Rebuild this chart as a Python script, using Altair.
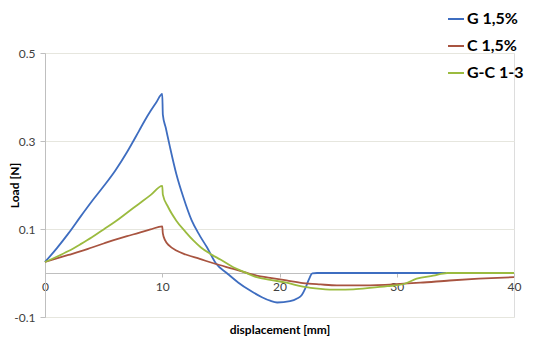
import altair as alt
import pandas as pd

series_names = ["G 1,5%", "C 1,5%", "G-C 1-3"]
series_colors = ["#3E6DC0", "#A85440", "#9BBB3F"]

g_x = [0, 1, 2, 3, 4, 5, 6, 7, 8, 8.5, 9, 9.5, 10, 10.05, 10.3, 10.66, 11.2, 11.8, 12.5,
       13.2, 13.8, 14.6, 15.5, 16.5, 17.5, 18.5, 19.2, 19.8, 20.9, 21.5, 21.9, 22.2,
       22.5, 22.8, 23.2, 34.2]
g_y = [0.025, 0.056, 0.09, 0.127, 0.163, 0.197, 0.233, 0.275, 0.322, 0.346, 0.368, 0.388,
       0.407, 0.36, 0.33, 0.286, 0.225, 0.172, 0.12, 0.085, 0.059, 0.021, 0.0, -0.022,
       -0.04, -0.055, -0.063, -0.067, -0.064, -0.058, -0.05, -0.035, -0.015, -0.001,
       0.0, 0.0]

c_x = [0, 1, 2, 3, 4, 5, 6, 7, 8, 9, 10, 10.05, 10.25, 10.6, 11.2, 12, 13.2, 14.5,
       16.06, 18.05, 19.2, 20.6, 22, 23.5, 24.9, 27.7, 29, 30.6, 32, 34.5, 37, 40]
c_y = [0.025, 0.033, 0.041, 0.049, 0.058, 0.067, 0.076, 0.084, 0.091, 0.099, 0.106,
       0.09, 0.074, 0.062, 0.051, 0.042, 0.032, 0.021, 0.0095, -0.006, -0.011, -0.017,
       -0.023, -0.026, -0.028, -0.028, -0.027, -0.024, -0.022, -0.017, -0.013, -0.0095]

gc_x = [0, 1, 2, 3, 4, 5, 6, 7, 8, 9, 10, 10.05, 10.5, 11.2, 12, 12.65, 13.3, 14.07,
        15, 16.06, 17, 18.05, 19.2, 20.6, 22, 23.5, 24.9, 26.3, 27.7, 29.2, 30.6, 31.7,
        33.1, 34.3, 40]
gc_y = [0.025, 0.037, 0.05, 0.065, 0.081, 0.099, 0.117, 0.137, 0.157, 0.177, 0.198,
        0.178, 0.15, 0.119, 0.093, 0.074, 0.058, 0.044, 0.03, 0.013, 0.002, -0.0095,
        -0.0155, -0.022, -0.031, -0.036, -0.038, -0.037, -0.034, -0.03, -0.025, -0.013,
        -0.006, 0.0, 0.0]

x_ticks = [0, 10, 20, 30, 40]
y_ticks = [-0.1, 0.1, 0.3, 0.5]

rows = []
for name, xs, ys in [(series_names[0], g_x, g_y), (series_names[1], c_x, c_y),
                     (series_names[2], gc_x, gc_y)]:
    for i, (xv, yv) in enumerate(zip(xs, ys)):
        rows.append({"series": name, "d": xv, "load": yv, "idx": i})
df = pd.DataFrame(rows)

FONT = "Lato"

chart = alt.Chart(df).mark_line(strokeWidth=1.8, interpolate="monotone").encode(
    x=alt.X("d:Q",
            scale=alt.Scale(domain=[0, 40], nice=False, zero=False),
            axis=alt.Axis(values=x_ticks, title="displacement [mm]", offset=-44,
                          grid=False, domainColor="#BFBFBF", tickColor="#BFBFBF",
                          tickSize=4, labelPadding=4, labelFontSize=12,
                          labelFlush=False,
                          labelColor="#404040", labelFont=FONT,
                          titleFont=FONT, titleFontSize=12, titleFontWeight="bold",
                          titleColor="#000000", titleY=60, titleBaseline="alphabetic")),
    y=alt.Y("load:Q",
            scale=alt.Scale(domain=[-0.1, 0.5], nice=False, zero=False),
            axis=alt.Axis(values=y_ticks, title="Load [N]",
                          labelExpr="toString(round(datum.value*10)/10)",
                          grid=True, gridColor="#E6E6DE", domainColor="#BFBFBF",
                          tickColor="#BFBFBF", tickSize=5, labelPadding=5,
                          labelFontSize=12, labelColor="#404040", labelFont=FONT,
                          titleFont=FONT, titleFontSize=12, titleFontWeight="bold",
                          titleColor="#000000", titleX=-27, titleY=132,
                          titleAngle=-90, titleAlign="center",
                          titleBaseline="alphabetic")),
    color=alt.Color("series:N",
                    scale=alt.Scale(domain=series_names, range=series_colors),
                    legend=alt.Legend(title=None, orient="none", legendX=402,
                                      legendY=-43, symbolType="stroke",
                                      symbolSize=256, symbolStrokeWidth=2,
                                      labelFont=FONT, labelFontSize=16,
                                      labelFontWeight="bold", labelColor="#000000",
                                      labelOffset=2, rowPadding=10)),
    order="idx:Q",
).properties(
    width=469, height=264,
    autosize=alt.AutoSizeParams(type="none"),
    padding={"left": 37, "top": 45, "right": 28, "bottom": 19},
).configure_view(stroke=None).configure(background="white")

chart.save("out.html", embed_options={"renderer": "svg", "actions": False})
